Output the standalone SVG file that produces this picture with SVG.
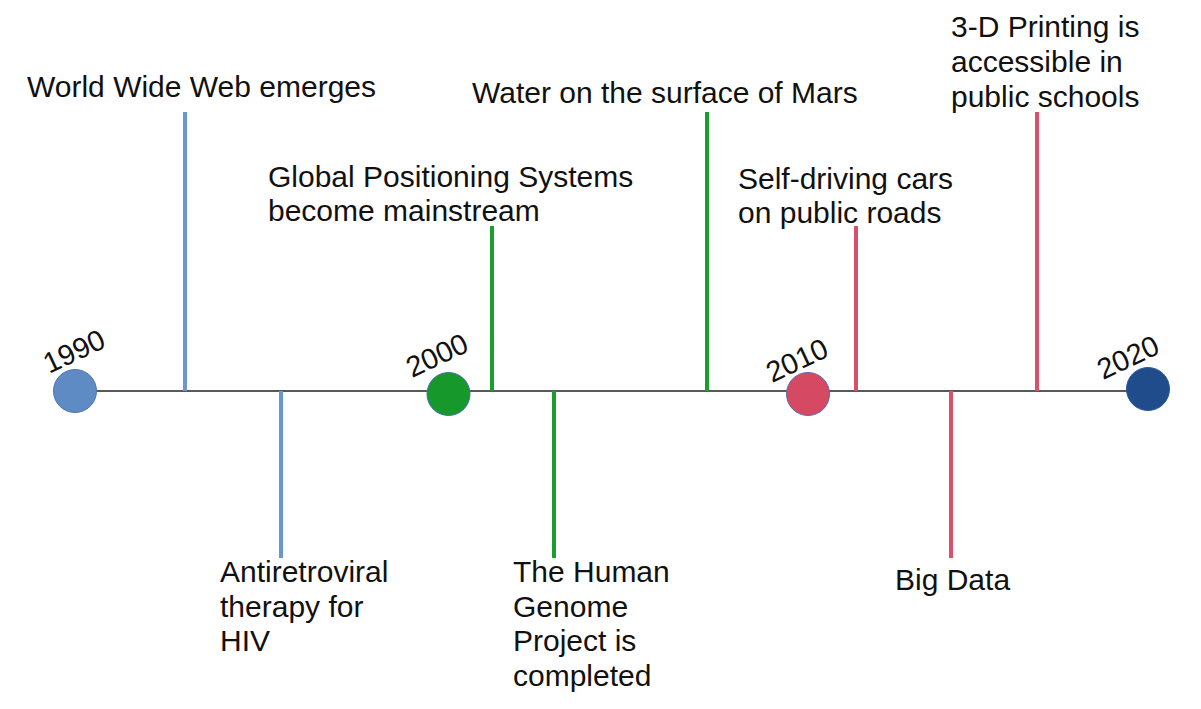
<svg xmlns="http://www.w3.org/2000/svg" width="1201" height="709" viewBox="0 0 1201 709">
<style>
text{font-family:"Liberation Sans",Arial,sans-serif;font-size:30px;fill:#111}
.yr{font-size:29px}
.c{stroke-width:4}
.b{stroke:#6b97d1}
.g{stroke:#1a9e2c}
.r{stroke:#d9506a}
</style>
<rect width="1201" height="709" fill="#fff"/>
<g id="connectors">
<line x1="75" y1="391" x2="1148" y2="391" stroke="#222" stroke-width="1.5"/>
<line class="c b" x1="185" y1="112" x2="185" y2="391"/>
<line class="c b" x1="281" y1="391" x2="281" y2="558"/>
<line class="c g" x1="492" y1="226" x2="492" y2="391"/>
<line class="c g" x1="554" y1="391" x2="554" y2="558"/>
<line class="c g" x1="707" y1="112" x2="707" y2="391"/>
<line class="c r" x1="856" y1="226" x2="856" y2="391"/>
<line class="c r" x1="951" y1="391" x2="951" y2="558"/>
<line class="c r" x1="1037" y1="112" x2="1037" y2="391"/>
</g>
<g id="y1990"><circle cx="75" cy="391" r="21.5" fill="#5f8bc5" stroke="#4d75ad" stroke-width="1"/><text class="yr" transform="translate(49,374) rotate(-25)">1990</text></g>
<g id="y2000"><circle cx="448.5" cy="394" r="21.5" fill="#17982a" stroke="#3d6fa8" stroke-width="1"/><text class="yr" transform="translate(412,378) rotate(-25)">2000</text></g>
<g id="y2010"><circle cx="808" cy="394" r="21.5" fill="#d64962" stroke="#5b6aa8" stroke-width="1"/><text class="yr" transform="translate(772,383) rotate(-25)">2010</text></g>
<g id="y2020"><circle cx="1148" cy="389" r="21.5" fill="#214c8c" stroke="#2a569a" stroke-width="1"/><text class="yr" transform="translate(1103,380) rotate(-25)">2020</text></g>
<g id="www"><text x="27" y="97">World Wide Web emerges</text></g>
<g id="hiv"><text x="220" y="582">Antiretroviral</text><text x="220" y="617">therapy for</text><text x="220" y="651">HIV</text></g>
<g id="gps"><text x="268" y="187">Global Positioning Systems</text><text x="268" y="221">become mainstream</text></g>
<g id="genome"><text x="513" y="582">The Human</text><text x="513" y="617">Genome</text><text x="513" y="651">Project is</text><text x="513" y="686">completed</text></g>
<g id="mars"><text x="472" y="103">Water on the surface of Mars</text></g>
<g id="cars"><text x="738" y="189">Self-driving cars</text><text x="738" y="223">on public roads</text></g>
<g id="bigdata"><text x="895" y="590">Big Data</text></g>
<g id="print3d"><text x="951" y="37">3-D Printing is</text><text x="951" y="72">accessible in</text><text x="951" y="107">public schools</text></g>
</svg>
